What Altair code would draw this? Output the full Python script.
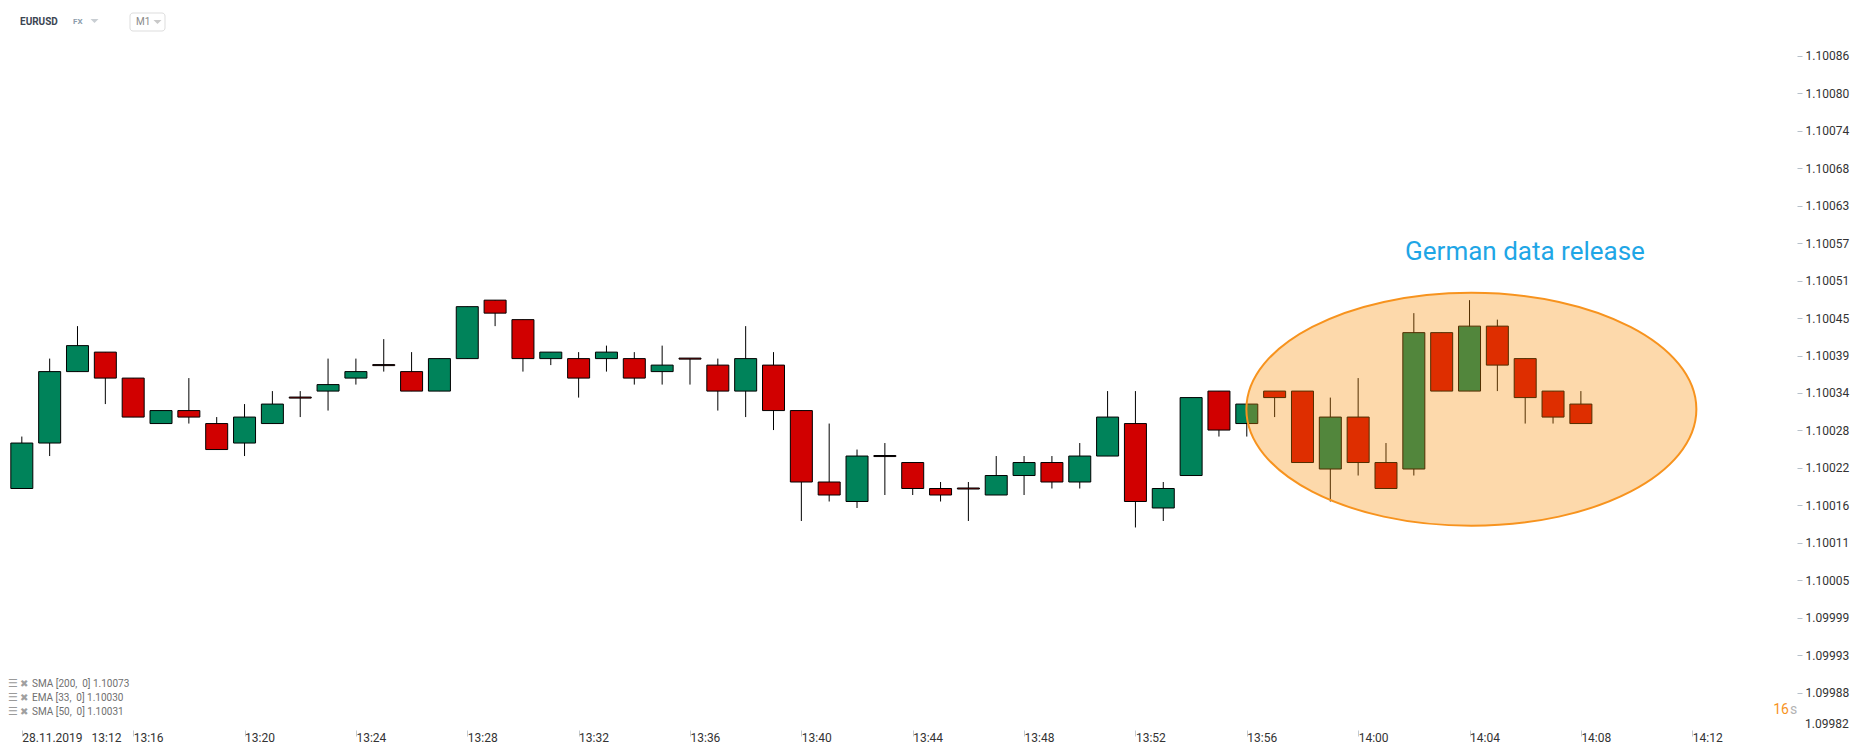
import json
import altair as alt
import pandas as pd

DATE = "2019-11-28"

# ---------------- data ----------------
times = ["13:12", "13:13", "13:14", "13:15", "13:16", "13:17", "13:18", "13:19", "13:20", "13:21",
         "13:22", "13:23", "13:24", "13:25", "13:26", "13:27", "13:28", "13:29", "13:30", "13:31",
         "13:32", "13:33", "13:34", "13:35", "13:36", "13:37", "13:38", "13:39", "13:40", "13:41",
         "13:42", "13:43", "13:44", "13:45", "13:46", "13:47", "13:48", "13:49", "13:50", "13:51",
         "13:52", "13:53", "13:54", "13:55", "13:56", "13:57", "13:58", "13:59", "14:00", "14:01",
         "14:02", "14:03", "14:04", "14:05", "14:06", "14:07", "14:08"]

opens = [1.10019, 1.10026, 1.10037, 1.10040, 1.10036, 1.10029, 1.10031, 1.10029, 1.10026, 1.10029,
         1.10033, 1.10034, 1.10036, 1.10038, 1.10037, 1.10034, 1.10039, 1.10048, 1.10045, 1.10039,
         1.10039, 1.10039, 1.10039, 1.10037, 1.10039, 1.10038, 1.10034, 1.10038, 1.10031, 1.10020,
         1.10017, 1.10024, 1.10023, 1.10019, 1.10019, 1.10018, 1.10021, 1.10023, 1.10020, 1.10024,
         1.10029, 1.10016, 1.10021, 1.10034, 1.10029, 1.10034, 1.10034, 1.10022, 1.10030, 1.10023,
         1.10022, 1.10043, 1.10034, 1.10044, 1.10039, 1.10034, 1.10032]

highs = [1.10027, 1.10039, 1.10044, 1.10040, 1.10036, 1.10031, 1.10036, 1.10030, 1.10032, 1.10034,
         1.10034, 1.10039, 1.10039, 1.10042, 1.10040, 1.10039, 1.10047, 1.10048, 1.10045, 1.10040,
         1.10040, 1.10041, 1.10040, 1.10041, 1.10039, 1.10039, 1.10044, 1.10040, 1.10031, 1.10029,
         1.10025, 1.10026, 1.10023, 1.10020, 1.10020, 1.10024, 1.10024, 1.10024, 1.10026, 1.10034,
         1.10034, 1.10020, 1.10033, 1.10034, 1.10032, 1.10034, 1.10034, 1.10033, 1.10036, 1.10026,
         1.10046, 1.10043, 1.10048, 1.10045, 1.10039, 1.10034, 1.10034]

lows = [1.10019, 1.10024, 1.10037, 1.10032, 1.10030, 1.10029, 1.10029, 1.10025, 1.10024, 1.10029,
        1.10030, 1.10031, 1.10035, 1.10037, 1.10034, 1.10034, 1.10039, 1.10044, 1.10037, 1.10038,
        1.10033, 1.10037, 1.10035, 1.10035, 1.10035, 1.10031, 1.10030, 1.10028, 1.10014, 1.10017,
        1.10016, 1.10018, 1.10018, 1.10017, 1.10014, 1.10018, 1.10018, 1.10019, 1.10019, 1.10024,
        1.10013, 1.10014, 1.10021, 1.10027, 1.10027, 1.10030, 1.10023, 1.10017, 1.10021, 1.10019,
        1.10021, 1.10034, 1.10034, 1.10034, 1.10029, 1.10029, 1.10029]

closes = [1.10026, 1.10037, 1.10041, 1.10036, 1.10030, 1.10031, 1.10030, 1.10025, 1.10030, 1.10032,
          1.10033, 1.10035, 1.10037, 1.10038, 1.10034, 1.10039, 1.10047, 1.10046, 1.10039, 1.10040,
          1.10036, 1.10040, 1.10036, 1.10038, 1.10039, 1.10034, 1.10039, 1.10031, 1.10020, 1.10018,
          1.10024, 1.10024, 1.10019, 1.10018, 1.10019, 1.10021, 1.10023, 1.10020, 1.10024, 1.10030,
          1.10017, 1.10019, 1.10033, 1.10028, 1.10032, 1.10033, 1.10023, 1.10030, 1.10023, 1.10019,
          1.10043, 1.10034, 1.10044, 1.10038, 1.10033, 1.10030, 1.10029]

x_tick_labels = ["13:12", "13:16", "13:20", "13:24", "13:28", "13:32", "13:36", "13:40",
                 "13:44", "13:48", "13:52", "13:56", "14:00", "14:04", "14:08", "14:12"]
first_x_label = "28.11.2019\u00a0\u00a0\u00a013:12"

y_tick_labels = ["1.09982", "1.09988", "1.09993", "1.09999", "1.10005", "1.10011", "1.10016",
                 "1.10022", "1.10028", "1.10034", "1.10039", "1.10045", "1.10051", "1.10057",
                 "1.10063", "1.10068", "1.10074", "1.10080", "1.10086"]
y_tick_first = 1.0998182
y_tick_step = 0.00005765
y_domain = [1.0998182, 1.1009298]

indicators = ["SMA [200,\u00a0\u00a00] 1.10073",
              "EMA [33,\u00a0\u00a00] 1.10030",
              "SMA [50,\u00a0\u00a00] 1.10031"]

annotation_text = "German data release"
ellipse_time = "14:04:04"
ellipse_price = 1.100312

GREEN = "#00835a"
RED = "#d10000"
FONT = "Roboto"

# ---------------- chart ----------------
def dt(hhmm, s=0):
    h, m = hhmm.split(":")
    return alt.DateTime(year=2019, month=11, date=28, hours=int(h), minutes=int(m), seconds=s)

df = pd.DataFrame({
    "time": [f"{DATE}T{t}:00" for t in times],
    "open": opens, "high": highs, "low": lows, "close": closes,
})

x_scale = alt.Scale(domain=[dt("13:11", 41), dt("14:15", 35)])
x_axis = alt.Axis(
    values=[dt(t) for t in x_tick_labels],
    labelExpr=f"timeFormat(datum.value, '%H:%M') == '13:12' ? '{first_x_label}' : timeFormat(datum.value, '%H:%M')",
    labelAlign="left", labelBaseline="top", labelFlush=False, labelOverlap=False,
    tickSize=6, labelPadding=-4, tickColor="#c3cad1", labelColor="#333333",
    labelFontSize=12, labelFont=FONT, domain=False, grid=False, title=None,
)
y_scale = alt.Scale(domain=y_domain, nice=False, zero=False)
# the lowest label sits without a tick, nudged up (drawn as text below)
y_axis = alt.Axis(
    orient="right",
    values=[y_tick_first + i * y_tick_step for i in range(1, len(y_tick_labels))],
    labelExpr=f"{json.dumps(y_tick_labels)}[round((datum.value - {y_tick_first}) / {y_tick_step})]",
    tickSize=5, labelPadding=3, tickColor="#b7c0c9", labelColor="#333333",
    labelFontSize=12, labelFont=FONT, domain=False, grid=False, labelFlush=False,
    labelOverlap=False, title=None,
)

X = alt.X("time:T", scale=x_scale, axis=x_axis, title=None)

wicks = alt.Chart(df).mark_rule(color="#000000", strokeWidth=1).encode(
    x=X,
    y=alt.Y("low:Q", scale=y_scale, axis=y_axis, title=None),
    y2="high:Q",
)

bodies = alt.Chart(df).transform_calculate(
    body_hi="max(datum.open, datum.close) + (datum.open == datum.close ? 0.0000008 : 0)",
    body_lo="min(datum.open, datum.close) - (datum.open == datum.close ? 0.0000008 : 0)",
    dir="datum.close > datum.open ? 'up' : 'down'",
).mark_bar(size=22, stroke="#000000", strokeWidth=1, opacity=1).encode(
    x=X,
    y=alt.Y("body_lo:Q", scale=y_scale, axis=y_axis, title=None),
    y2="body_hi:Q",
    fill=alt.Fill("dir:N", scale=alt.Scale(domain=["up", "down"], range=[GREEN, RED]), legend=None),
)

ell_df = pd.DataFrame({"time": [f"{DATE}T{ellipse_time}"], "price": [ellipse_price]})
ellipse = alt.Chart(ell_df).mark_point(
    shape="M -1 0 A 1 0.5178 0 1 0 1 0 A 1 0.5178 0 1 0 -1 0 Z",
    size=450 * 450, filled=True, fill="#f88b00", fillOpacity=0.33,
    stroke="#f7931e", strokeOpacity=1, strokeWidth=2, opacity=1,
).encode(
    x=X,
    y=alt.Y("price:Q", scale=y_scale, axis=y_axis, title=None),
)

one = pd.DataFrame({"a": [0]})


def txt(text, x, y, size, color, weight="normal", align="left", font=FONT):
    return alt.Chart(one).mark_text(
        text=text, fontSize=size, color=color, fontWeight=weight, align=align,
        baseline="middle", font=font,
    ).encode(x=alt.value(x), y=alt.value(y))


CARET = "M -1 -0.5 L 1 -0.5 L 0 0.5 Z"


def caret(x, y, color):
    return alt.Chart(one).mark_point(
        shape=CARET, size=64, filled=True, color=color, opacity=1, strokeWidth=0
    ).encode(x=alt.value(x), y=alt.value(y))


m1_box = alt.Chart(one).mark_rect(
    fill="#ffffff", stroke="#dddddd", strokeWidth=1, cornerRadius=3
).encode(x=alt.value(122), x2=alt.value(157), y=alt.value(5), y2=alt.value(23))

layers = [wicks, bodies, ellipse,
          txt(annotation_text, 1517, 244, 26, "#1fa6e6", align="center"),
          txt("EURUSD", 12, 14, 10, "#3c4652", weight="bold"),
          txt("FX", 65, 14, 8, "#8d9dab", weight="bold"),
          caret(86.5, 13, "#c9ced3"),
          m1_box,
          txt("M1", 128, 14, 10, "#8a8a8a"),
          caret(149.5, 14, "#c9c9c9"),
          txt("16", 1781, 702, 14, "#f7931e", align="right"),
          txt("s", 1782, 702, 14, "#b3b3b3"),
          txt(y_tick_labels[0], 1797, 716, 12, "#333333")]

for i, s in enumerate(indicators):
    yy = 676 + 14 * i
    layers.append(txt("\u2630", 0, yy, 11, "#9a9a9a", font="DejaVu Sans"))
    layers.append(txt("\u2716", 12, yy, 10, "#a0a0a0", font="DejaVu Sans"))
    layers.append(txt(s, 24, yy, 10, "#707070"))

chart = alt.layer(*layers).properties(
    width=1789, height=722,
    autosize=alt.AutoSizeParams(type="none"),
    padding={"left": 0, "top": 0, "right": 58, "bottom": 16},
).configure(font=FONT, background="#ffffff").configure_view(stroke=None, strokeWidth=0)

chart.save("out.html", embed_options={"renderer": "svg", "actions": False})
